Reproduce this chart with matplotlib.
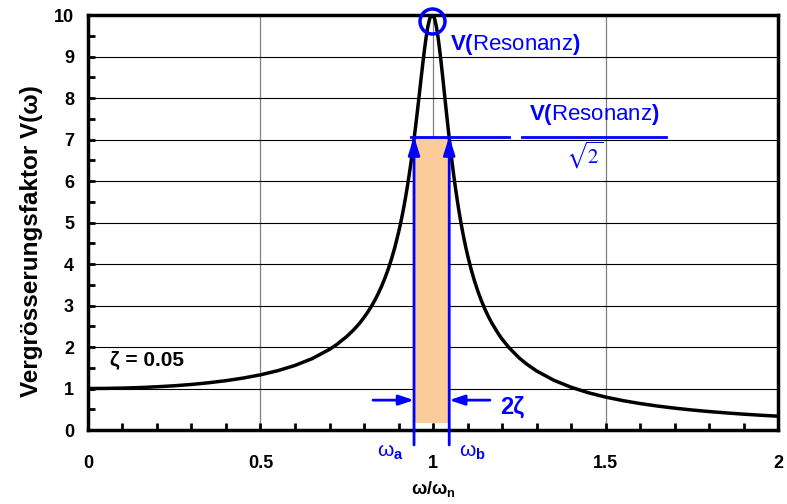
import matplotlib.pyplot as plt
import numpy as np
from matplotlib.patches import Rectangle

plt.rcParams['font.family'] = ['Liberation Sans', 'DejaVu Sans']
plt.rcParams['mathtext.fontset'] = 'custom'
plt.rcParams['mathtext.rm'] = 'Liberation Sans'
plt.rcParams['mathtext.bf'] = 'Liberation Sans:bold'
plt.rcParams['mathtext.it'] = 'Liberation Sans:italic'

# daten
r = [0.0, 0.05, 0.1, 0.15, 0.2, 0.25, 0.3, 0.35, 0.4, 0.45, 0.5, 0.55, 0.6, 0.65,
     0.7, 0.72, 0.75, 0.77, 0.78, 0.79, 0.8, 0.81, 0.82, 0.83, 0.84, 0.85, 0.86, 0.87,
     0.88, 0.89, 0.9, 0.905, 0.91, 0.915, 0.92, 0.925, 0.93, 0.935, 0.94, 0.945, 0.95,
     0.955, 0.96, 0.965, 0.97, 0.975, 0.98, 0.985, 0.99, 0.995, 1.0, 1.005, 1.01, 1.015,
     1.02, 1.025, 1.03, 1.035, 1.04, 1.045, 1.05, 1.055, 1.06, 1.065, 1.07, 1.075, 1.08,
     1.085, 1.09, 1.095, 1.1, 1.11, 1.12, 1.13, 1.14, 1.15, 1.16, 1.17, 1.19, 1.2, 1.22,
     1.25, 1.27, 1.3, 1.35, 1.4, 1.45, 1.5, 1.55, 1.6, 1.65, 1.7, 1.75, 1.8, 1.85, 1.9,
     1.95, 2.0]
V = [1.0, 1.003, 1.01, 1.023, 1.042, 1.066, 1.098, 1.139, 1.189, 1.252, 1.33, 1.429, 1.556, 1.721,
     1.943, 2.054, 2.253, 2.414, 2.504, 2.603, 2.712, 2.83, 2.961, 3.106, 3.266, 3.446, 3.647, 3.873,
     4.13, 4.422, 4.757, 4.942, 5.141, 5.355, 5.585, 5.832, 6.097, 6.381, 6.684, 7.006, 7.346,
     7.701, 8.068, 8.439, 8.804, 9.15, 9.461, 9.718, 9.903, 10.0, 10.0, 9.901, 9.711, 9.443,
     9.115, 8.747, 8.357, 7.959, 7.565, 7.182, 6.815, 6.468, 6.141, 5.836, 5.552, 5.287, 5.041,
     4.812, 4.6, 4.402, 4.218, 3.887, 3.598, 3.344, 3.12, 2.921, 2.743, 2.584, 2.311, 2.193, 1.987,
     1.735, 1.598, 1.424, 1.2, 1.031, 0.899, 0.794, 0.709, 0.638, 0.578, 0.527, 0.483, 0.445, 0.412,
     0.382, 0.356, 0.333]
zeta = 0.05
v_max = 10.0
v_half = v_max / np.sqrt(2)
w_a = 0.945
w_b = 1.047

blue = '#0000FF'

fig = plt.figure(figsize=(7.87, 5.04), dpi=100)
ax = fig.add_axes([0.1118, 0.1468, 0.8768, 0.8234])

# orange band
ax.add_patch(Rectangle((w_a, 0.17), w_b - w_a, v_half - 0.17, facecolor='#FBCB9A',
                       edgecolor='none', zorder=1))

# grid
for g in [0.5, 1.0, 1.5]:
    ax.axvline(g, color='#808080', lw=0.9, zorder=0.5)
for g in range(1, 10):
    ax.axhline(g, color='black', lw=0.8, zorder=0.5)

ax.plot(r, V, color='black', lw=2.5, zorder=3, solid_joinstyle='round')

ax.set_xlim(0, 2)
ax.set_ylim(0, 10)
ax.set_xticks([0, 0.5, 1, 1.5, 2])
ax.set_xticklabels(['0', '0.5', '1', '1.5', '2'])
ax.set_xticks(np.arange(0, 2.01, 0.1), minor=True)
ax.set_yticks(range(0, 11))
ax.set_yticks(np.arange(0, 10.01, 0.5), minor=True)
ax.tick_params(which='both', direction='in', width=2, length=5)
ax.tick_params(axis='x', which='major', pad=18)
ax.tick_params(axis='y', which='major', pad=10)
for lab in ax.get_xticklabels() + ax.get_yticklabels():
    lab.set_fontweight('bold')
    lab.set_fontsize(13)
for s in ax.spines.values():
    s.set_linewidth(2.5)

ax.set_xlabel(r'ω/ω$_\mathbf{n}$', fontsize=13, fontweight='bold', labelpad=5)
ax.set_ylabel('Vergrösserungsfaktor V(ω)', fontsize=17.5, fontweight='bold')
ax.yaxis.set_label_coords(-0.065, 0.455)

# resonanz kreis
ax.plot([0.997], [9.86], marker='o', ms=18, mfc='none', mec=blue, mew=2.5,
        clip_on=False, zorder=5)
ax.text(1.05, 9.3, r'$\mathbf{V(}$Resonanz$\mathbf{)}$', color=blue, fontsize=16,
        va='center', ha='left')

# sqrt(2) linie
ax.plot([0.936, 1.22], [v_half, v_half], color=blue, lw=2, zorder=4)
ax.plot([1.258, 1.675], [v_half, v_half], color=blue, lw=2, zorder=4)
ax.text(1.467, 7.3, r'$\mathbf{V(}$Resonanz$\mathbf{)}$', color=blue, fontsize=16,
        va='bottom', ha='center')
ax.text(1.44, 6.62, r'$\sqrt{2}$', color=blue, fontsize=15, va='center', ha='center',
        math_fontfamily='stix')

# vertikale pfeile bei w_a, w_b
for w in [w_a, w_b]:
    ax.annotate('', xy=(w, v_half), xytext=(w, -0.36), annotation_clip=False,
                arrowprops=dict(arrowstyle='-|>,head_length=1.1,head_width=0.35',
                                color=blue, lw=2, shrinkA=0, shrinkB=0), zorder=4)

# horizontale pfeile 2 zeta
ax.annotate('', xy=(w_a, 0.72), xytext=(0.826, 0.72),
            arrowprops=dict(arrowstyle='-|>,head_length=0.9,head_width=0.3',
                            color=blue, lw=2, shrinkA=0, shrinkB=0))
ax.annotate('', xy=(w_b, 0.72), xytext=(1.165, 0.72),
            arrowprops=dict(arrowstyle='-|>,head_length=0.9,head_width=0.3',
                            color=blue, lw=2, shrinkA=0, shrinkB=0))
ax.text(1.195, 0.55, '2ζ', color=blue, fontsize=17, fontweight='bold', va='center', ha='left')

ax.text(0.875, -0.55, r'ω$_\mathbf{a}$', color=blue, fontsize=15, va='center', ha='center',
        clip_on=False)
ax.text(1.113, -0.55, r'ω$_\mathbf{b}$', color=blue, fontsize=15, va='center', ha='center',
        clip_on=False)

ax.text(0.064, 1.69, 'ζ = 0.05', fontsize=15, fontweight='bold', va='center', ha='left')

fig.savefig('out.png', dpi=100)
